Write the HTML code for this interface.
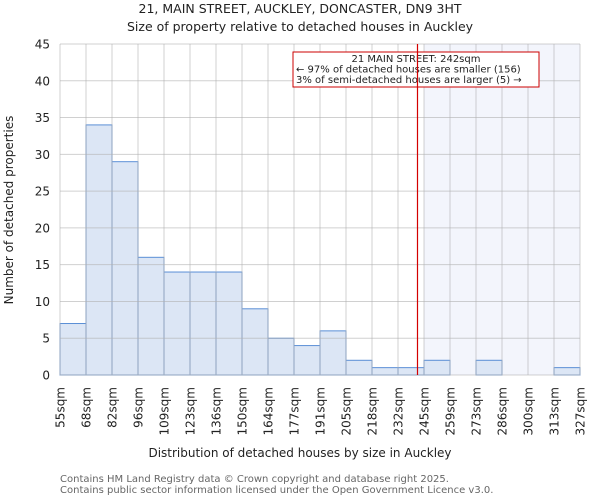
<!DOCTYPE html>
<html><head><meta charset="utf-8"><style>
body{margin:0;background:#fff;font-family:"DejaVu Sans","Liberation Sans",sans-serif;}
svg text{font-family:"DejaVu Sans","Liberation Sans",sans-serif;fill:#222;}
</style></head><body>
<svg id="c" width="600" height="500" viewBox="0 0 600 500">
<text x="300" y="13" font-size="12.5" text-anchor="middle">21, MAIN STREET, AUCKLEY, DONCASTER, DN9 3HT</text>
<text x="300" y="31" font-size="12.5" text-anchor="middle">Size of property relative to detached houses in Auckley</text>
<rect id="hl" y="44" height="331" fill="#f3f5fc"/>
<g id="bars"></g>
<g id="grid"></g>
<g id="yt"></g><g id="xt"></g>
<rect x="293" y="52" width="246" height="35" fill="#fff" stroke="#cc0000" stroke-width="1"/>
<text x="416" y="62" font-size="10" text-anchor="middle">21 MAIN STREET: 242sqm</text>
<text x="296" y="72.5" font-size="10">← 97% of detached houses are smaller (156)</text>
<text x="296" y="83" font-size="10">3% of semi-detached houses are larger (5) →</text>
<line id="marker" y1="44" y2="375" style="stroke:#d40000;stroke-width:1.2"/>
<text x="300" y="457" font-size="12" text-anchor="middle">Distribution of detached houses by size in Auckley</text>
<text transform="translate(13,210) rotate(-90)" font-size="12" text-anchor="middle">Number of detached properties</text>
<text x="60" y="482" font-size="10" style="fill:#666">Contains HM Land Registry data © Crown copyright and database right 2025.</text>
<text x="60" y="493" font-size="10" style="fill:#666">Contains public sector information licensed under the Open Government Licence v3.0.</text>
</svg>
<script>
const binLabels=["55sqm","68sqm","82sqm","96sqm","109sqm","123sqm","136sqm","150sqm","164sqm","177sqm","191sqm","205sqm","218sqm","232sqm","245sqm","259sqm","273sqm","286sqm","300sqm","313sqm","327sqm"];
const counts=[7,34,29,16,14,14,14,9,5,4,6,2,1,1,2,0,2,0,0,1];
const yTicks=[0,5,10,15,20,25,30,35,40,45];
const markerValue=242;
const highlightStart=245.4;
const binEdges=[55,68.6,82.2,95.8,109.4,123,136.6,150.2,163.8,177.4,191,204.6,218.2,231.8,245.4,259,272.6,286.2,299.8,313.4,327];
const NS="http://www.w3.org/2000/svg";
const x0=60,x1=580,y0=375,y1=44;
const bw=(x1-x0)/counts.length;
const xi=i=>x0+i*bw;
const yv=v=>y0-(v/45)*(y0-y1);
const xv=v=>{for(let i=0;i<binEdges.length-1;i++){if(v<=binEdges[i+1]+1e-9)return xi(i)+(v-binEdges[i])/(binEdges[i+1]-binEdges[i])*bw;}return x1;};
const hl=document.getElementById('hl');const hx=xv(highlightStart);hl.setAttribute('x',hx);hl.setAttribute('width',x1-hx);
const bars=document.getElementById('bars');
counts.forEach((c,i)=>{if(c<=0)return;const r=document.createElementNS(NS,'rect');
r.setAttribute('x',xi(i));r.setAttribute('y',yv(c));r.setAttribute('width',bw);r.setAttribute('height',y0-yv(c));
r.setAttribute('fill','#dce6f5');r.setAttribute('stroke','#5b8fd6');r.setAttribute('stroke-width','1');


bars.appendChild(r);});
const grid=document.getElementById('grid');
const yt=document.getElementById('yt');
yTicks.forEach(t=>{const l=document.createElementNS(NS,'line');l.setAttribute('x1',x0);l.setAttribute('x2',x1);l.setAttribute('y1',yv(t));l.setAttribute('y2',yv(t));l.setAttribute('stroke','#b0b0b0');l.setAttribute('stroke-opacity','0.6');


grid.appendChild(l);
const tx=document.createElementNS(NS,'text');tx.setAttribute('x',50);tx.setAttribute('y',yv(t)+4.5);tx.setAttribute('font-size','12');tx.setAttribute('text-anchor','end');tx.textContent=t;


yt.appendChild(tx);});
const xt=document.getElementById('xt');
binLabels.forEach((s,i)=>{const x=xi(i);const l=document.createElementNS(NS,'line');l.setAttribute('x1',x);l.setAttribute('x2',x);l.setAttribute('y1',y1);l.setAttribute('y2',y0);l.setAttribute('stroke','#b0b0b0');l.setAttribute('stroke-opacity','0.6');


grid.appendChild(l);
const tx=document.createElementNS(NS,'text');tx.setAttribute('transform','translate('+(x+4.5)+',387) rotate(-90)');tx.setAttribute('font-size','12');tx.setAttribute('text-anchor','end');tx.textContent=s;


xt.appendChild(tx);});
const m=document.getElementById('marker');const mx=xv(markerValue);m.setAttribute('x1',mx);m.setAttribute('x2',mx);
</script>
</body></html>
